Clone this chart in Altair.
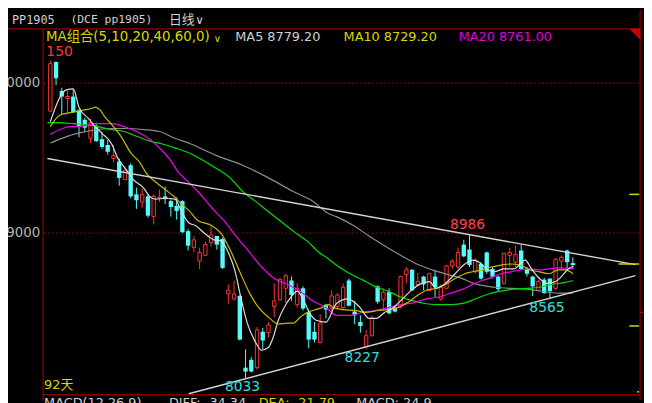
import altair as alt
import pandas as pd

# ---------------- data ----------------
candle_idx = list(range(1, 93))
opens = [9813, 10140, 9948, 9897, 9910, 9819, 9755, 9632, 9710, 9626,
         9587, 9497, 9477, 9355, 9452, 9258, 9207, 9245, 9110, 9232,
         9245, 9213, 9181, 9213, 9013, 8903, 8813, 8852, 8936, 8981,
         8961, 8594, 8561, 8581, 8103, 8155, 8103, 8342, 8336, 8510,
         8555, 8632, 8684, 8523, 8632, 8471, 8342, 8271, 8523, 8497,
         8510, 8503, 8684, 8477, 8407, 8245, 8316, 8645, 8555, 8606,
         8503, 8510, 8723, 8755, 8658, 8710, 8619, 8710, 8561, 8632,
         8781, 8774, 8923, 8890, 8742, 8794, 8871, 8761, 8710, 8665,
         8852, 8806, 8884, 8761, 8710, 8619, 8690, 8697, 8632, 8813,
         8884, 8800]
highs = [10150, 10145, 9968, 9948, 9961, 9826, 9768, 9761, 9736, 9677,
         9619, 9587, 9497, 9445, 9465, 9303, 9297, 9258, 9258, 9290,
         9310, 9226, 9239, 9219, 9026, 8980, 8903, 8942, 9045, 8981,
         8968, 8658, 8684, 8587, 8226, 8174, 8374, 8368, 8407, 8665,
         8703, 8729, 8710, 8665, 8645, 8490, 8407, 8458, 8529, 8619,
         8600, 8665, 8697, 8548, 8452, 8355, 8452, 8652, 8632, 8632,
         8516, 8716, 8774, 8761, 8736, 8716, 8736, 8755, 8658, 8787,
         8826, 8903, 8955, 8986, 8832, 8806, 8877, 8774, 8716, 8871,
         8903, 8916, 8923, 8774, 8716, 8690, 8703, 8697, 8832, 8852,
         8890, 8839]
lows = [9806, 9987, 9794, 9800, 9800, 9639, 9677, 9600, 9606, 9561,
        9523, 9471, 9316, 9355, 9232, 9161, 9168, 9103, 9058, 9207,
        9194, 9110, 9090, 9000, 8884, 8871, 8761, 8852, 8910, 8890,
        8761, 8529, 8548, 8284, 8033, 8071, 8090, 8226, 8303, 8439,
        8548, 8535, 8548, 8503, 8484, 8232, 8271, 8265, 8432, 8477,
        8497, 8497, 8510, 8394, 8336, 8227, 8310, 8529, 8484, 8458,
        8471, 8497, 8665, 8613, 8645, 8619, 8613, 8574, 8548, 8626,
        8761, 8761, 8839, 8774, 8729, 8690, 8729, 8697, 8613, 8658,
        8774, 8774, 8755, 8710, 8581, 8613, 8594, 8565, 8619, 8761,
        8768, 8761]
closes = [10129, 10032, 9910, 9910, 9806, 9710, 9703, 9736, 9613, 9574,
          9542, 9516, 9368, 9419, 9245, 9219, 9258, 9116, 9245, 9239,
          9226, 9174, 9148, 9006, 8916, 8955, 8871, 8923, 8987, 8923,
          8768, 8619, 8594, 8290, 8077, 8077, 8355, 8284, 8387, 8548,
          8690, 8716, 8587, 8632, 8497, 8290, 8290, 8400, 8490, 8581,
          8587, 8639, 8516, 8452, 8381, 8316, 8432, 8542, 8606, 8465,
          8477, 8710, 8755, 8619, 8677, 8658, 8729, 8639, 8639, 8781,
          8813, 8871, 8845, 8787, 8820, 8697, 8742, 8710, 8626, 8865,
          8871, 8858, 8761, 8729, 8645, 8677, 8600, 8613, 8826, 8839,
          8806, 8787]

ma5_x = [1, 3.8, 5, 6, 7.7, 8.8, 10, 11.7, 12.7, 14.3, 15.5, 17.2, 18.3, 19.3, 21,
         22.7, 23.8, 25.2, 26.2, 27.8, 29.5, 30.7, 32, 33.2, 34.2, 35.3, 36.5, 37.8,
         39, 39.8, 40.7, 41.7, 42.8, 44, 45, 46.2, 47.3, 49, 50.8, 52.8, 54.8, 56.5,
         57.8, 59.2, 60.7, 62.3, 63.7, 65.3, 67, 68.2, 69.8, 71.5, 73.2, 74.5, 75.7,
         77, 78.3, 80, 81.7, 83.7, 84.8, 86.2, 87.5, 89, 90, 91.2, 92]
ma5_v = [9742, 9955, 9961, 9839, 9761, 9710, 9665, 9594, 9503, 9419, 9355, 9303, 9245,
         9226, 9232, 9226, 9148, 9065, 9052, 9000, 8955, 8948, 8871, 8742, 8568, 8400,
         8290, 8219, 8239, 8303, 8419, 8503, 8568, 8613, 8561, 8465, 8419, 8407, 8529,
         8561, 8510, 8432, 8432, 8471, 8503, 8561, 8613, 8658, 8677, 8632, 8665, 8729,
         8794, 8820, 8806, 8761, 8742, 8761, 8761, 8820, 8761, 8697, 8665, 8677, 8710,
         8761, 8779]

ma10_x = [1, 2.7, 5, 6.7, 8.3, 8.8, 9.7, 10.5, 11.7, 13.3, 15, 16.7, 17.7, 19.3, 21,
          22.7, 23.8, 25.2, 26.7, 29, 30.7, 32.3, 34, 35.7, 37.3, 39, 40.7, 42.3, 43.3,
          44.5, 45.7, 46.7, 48.3, 49.5, 50.3, 52, 54.2, 55.8, 58.2, 59.8, 61.5, 63.2,
          64.8, 66.5, 68.2, 69.8, 71.5, 73.2, 74.5, 76.2, 77.8, 79.5, 81.2, 82.8, 84.5,
          86.2, 87.8, 89.5, 90.7, 92]
ma10_v = [9710, 9787, 9806, 9819, 9832, 9839, 9819, 9774, 9723, 9645, 9536, 9465, 9400,
          9342, 9290, 9239, 9194, 9148, 9084, 9052, 9000, 8890, 8742, 8600, 8503, 8439,
          8394, 8400, 8400, 8439, 8471, 8484, 8503, 8523, 8503, 8490, 8484, 8471, 8484,
          8490, 8503, 8535, 8581, 8619, 8632, 8658, 8697, 8729, 8742, 8755, 8774, 8787,
          8794, 8787, 8755, 8742, 8729, 8755, 8755, 8729]

ma20_x = [1, 2.7, 4.3, 6, 8.8, 11.7, 13.8, 16, 18.3, 20, 21.7, 23.3, 25.2, 26.7, 29,
          31.2, 33.3, 35.7, 37.8, 40, 42.3, 44.5, 46.7, 49, 50.8, 53.2, 55.3, 57.5,
          59.8, 62, 64.2, 66.5, 68.7, 70.8, 73.2, 74.5, 76.2, 77.8, 79.5, 81.2, 82.8,
          84.5, 86.2, 87.8, 89.5, 92]
ma20_v = [9658, 9690, 9710, 9710, 9729, 9729, 9710, 9677, 9626, 9568, 9497, 9406, 9335,
          9277, 9174, 9084, 8981, 8871, 8774, 8697, 8658, 8613, 8548, 8503, 8452, 8452,
          8471, 8484, 8503, 8523, 8535, 8561, 8574, 8600, 8632, 8658, 8684, 8703, 8729,
          8742, 8755, 8761, 8755, 8761, 8768, 8761]

ma40_x = [0.5, 2.7, 5, 7.2, 9.3, 11.7, 13.8, 16, 18.3, 20.5, 22.7, 25.5, 29, 32.3, 34.5,
          36.7, 39, 41.2, 43.3, 45.7, 47.8, 49.5, 50.8, 53.2, 55.3, 57.5, 59.8, 62,
          64.2, 66.5, 68.7, 70.8, 73.2, 75, 77.3, 79.5, 81.7, 84, 86.2, 88.3, 90.7, 92]
ma40_v = [9736, 9736, 9729, 9723, 9710, 9690, 9677, 9645, 9613, 9594, 9568, 9529, 9452,
          9368, 9277, 9213, 9142, 9077, 9013, 8948, 8871, 8826, 8787, 8729, 8690, 8645,
          8613, 8574, 8548, 8529, 8523, 8523, 8535, 8561, 8594, 8613, 8626, 8632, 8639,
          8658, 8671, 8684]

ma60_x = [1, 2.7, 5, 7.2, 9.3, 11.7, 14.3, 17.2, 20, 22.7, 25.5, 30, 34.5, 39, 43.3,
          46.7, 49.5, 50.8, 53.7, 56.5, 59.2, 62, 64.8, 67.5, 70.3, 73.2, 74.5, 78.3,
          84, 89.5, 92]
ma60_v = [9600, 9626, 9658, 9677, 9690, 9697, 9697, 9690, 9677, 9632, 9594, 9516, 9452,
          9368, 9277, 9213, 9129, 9110, 9052, 8981, 8916, 8852, 8794, 8755, 8723, 8690,
          8668, 8639, 8626, 8600, 8600]

trend_upper_x = [0.5, 102.9]
trend_upper_v = [9497, 8790]
trend_lower_x = [25.1, 102.9]
trend_lower_v = [7929, 8717]

grid_levels = [10000, 9000]
right_marks = [9258, 8794, 8381, 7942]

# ---------------- layout ----------------
SRC_W, SRC_H = 652, 403
CW, CH = 644, 395
SX, SY = CW / SRC_W, CH / SRC_H


def ix(rx):
    return (rx - 38.9) / 5.98 + 1


def pr(ry):
    return 10000 - (ry - 75) / 0.155


xs = alt.Scale(domain=[ix(0), ix(SRC_W)], nice=False, zero=False)
ys = alt.Scale(domain=[pr(SRC_H), pr(0)], nice=False, zero=False)


def X(f):
    return alt.X(f, type="quantitative", scale=xs, axis=None)


def Y(f):
    return alt.Y(f, type="quantitative", scale=ys, axis=None)


def vx(rx):
    return alt.value(rx * SX)


def vy(ry):
    return alt.value(ry * SY)


RED = "#ff3434"
CYAN = "#54fcfc"
FRAME = "#b40000"
SANS = "DejaVu Sans, Noto Sans CJK SC"
MONO = "DejaVu Sans Mono, Noto Sans CJK SC"

one = pd.DataFrame({"k": [0]})


def hrule(rx1, rx2, ry, color=FRAME, w=1):
    return alt.Chart(one).mark_rule(color=color, strokeWidth=w).encode(
        x=vx(rx1), x2=vx(rx2), y=vy(ry))


def vrule(rx, ry1, ry2, color=FRAME, w=1):
    return alt.Chart(one).mark_rule(color=color, strokeWidth=w).encode(
        x=vx(rx), y=vy(ry1), y2=vy(ry2))


def label(s, rx, ry, color, size=13, font=SANS, align="left", baseline="middle"):
    return alt.Chart(pd.DataFrame({"t": [s]})).mark_text(
        align=align, baseline=baseline, font=font, fontSize=size, color=color
    ).encode(x=vx(rx), y=vy(ry), text="t:N")


layers = []

# frame
layers += [
    hrule(0, 648, 19),
    vrule(36, 19, SRC_H),
    vrule(648, 0, SRC_H),
    hrule(36, 648, 397),
    hrule(648, 652, 312),
]

# dotted price levels
lev = pd.DataFrame({"p": grid_levels})
layers.append(
    alt.Chart(lev).mark_rule(color="#a00000", strokeWidth=1, strokeDash=[2, 2]).encode(
        y=Y("p"), x=vx(37), x2=vx(647))
)

# candles
df = pd.DataFrame({"i": candle_idx, "o": opens, "h": highs, "l": lows, "c": closes})
df["dir"] = ["up" if c >= o else "down" for o, c in zip(opens, closes)]
up = df[df.dir == "up"]
dn = df[df.dir == "down"]
layers += [
    alt.Chart(up).mark_rule(color=RED, strokeWidth=1).encode(x=X("i"), y=Y("l"), y2="h"),
    alt.Chart(dn).mark_rule(color=CYAN, strokeWidth=1).encode(x=X("i"), y=Y("l"), y2="h"),
    alt.Chart(up).mark_bar(size=3.4, fill="black", stroke=RED, strokeWidth=1,
                           orient="vertical").encode(x=X("i"), y=Y("o"), y2="c"),
    alt.Chart(dn).mark_bar(size=4.4, color=CYAN, orient="vertical").encode(
        x=X("i"), y=Y("o"), y2="c"),
]

# moving averages
for xv, vv, col in [
    (ma60_x, ma60_v, "#8c8c8c"),
    (ma40_x, ma40_v, "#00dc00"),
    (ma20_x, ma20_v, "#f000f0"),
    (ma10_x, ma10_v, "#c8bc00"),
    (ma5_x, ma5_v, "#dcdcdc"),
]:
    layers.append(
        alt.Chart(pd.DataFrame({"i": xv, "v": vv})).mark_line(
            color=col, strokeWidth=1.2, interpolate="monotone"
        ).encode(x=X("i"), y=Y("v"))
    )

# trend lines
for xv, vv in [(trend_upper_x, trend_upper_v), (trend_lower_x, trend_lower_v)]:
    layers.append(
        alt.Chart(pd.DataFrame({"i": xv, "v": vv})).mark_line(
            color="#d4d4d4", strokeWidth=1.4
        ).encode(x=X("i"), y=Y("v"))
    )

# right-edge yellow marks
rm = pd.DataFrame({"p": right_marks, "x0": [637, 626, 637, 645]})
for p, x0 in zip(right_marks, [637, 626, 637, 645]):
    layers.append(
        alt.Chart(pd.DataFrame({"p": [p]})).mark_rule(color="#d8d800", strokeWidth=1.5).encode(
            y=Y("p"), x=vx(x0), x2=vx(647))
    )

# red corner triangle
layers.append(
    alt.Chart(one).mark_point(shape="M -1 -1 L 1 -1 L 1 1 Z", filled=True, color="#d00000",
                              size=121, opacity=1).encode(x=vx(642.5), y=vy(24.5))
)

# extreme value labels (anchored to data)
ext = [("150", 1, 10150, RED, "left", -4, -9),
       ("8986", 74, 8986, "#ff4848", "center", -2, -10),
       ("8033", 35, 8033, "#30e0e0", "center", -3, 9),
       ("8227", 56, 8227, "#30e0e0", "center", -4, 9),
       ("8565", 88, 8565, "#30e0e0", "center", -3, 10)]
for s, i, p, col, al, dx, dy in ext:
    layers.append(
        alt.Chart(pd.DataFrame({"i": [i], "p": [p], "t": [s]})).mark_text(
            font=SANS, fontSize=14, color=col, align=al, baseline="middle", dx=dx, dy=dy
        ).encode(x=X("i"), y=Y("p"), text="t:N")
    )

# axis labels (left)
layers += [
    label("10000", 33, 75, "#b4b4b4", size=13.5, align="right"),
    label("9000", 33, 230, "#b4b4b4", size=13.5, align="right"),
]

# header texts
layers += [
    label("PP1905", 4, 10, "#d0d0d0", size=12, font=MONO),
    label("(DCE pp1905)", 64, 10, "#d0d0d0", size=11.5, font=MONO),
    label("日线", 165, 10, "#d0d0d0", size=13),
    label("∨", 192, 10, "#d0d0d0", size=12),
    label("MA组合(5,10,20,40,60,0)", 39, 27, "#d8d800", size=13.5),
    label("∨", 211, 30, "#d8d800", size=10),
    label("MA5 8779.20", 233, 27, "#d0d0d0", size=13),
    label("MA10 8729.20", 344, 27, "#d8d800", size=13),
    label("MA20 8761.00", 462, 27, "#e000e0", size=13),
    label("92天", 37, 387, "#d8d800", size=13),
    label("MACD(12,26,9)", 37, 399, "#d0d0d0", size=13, baseline="top"),
    label("DIFF: -34.34", 165, 399, "#d0d0d0", size=13, baseline="top"),
    label("DEA: -21.79", 257, 399, "#d8d800", size=13, baseline="top"),
    label("MACD: 24.9", 357, 399, "#d0d0d0", size=13, baseline="top"),
]

chart = alt.layer(*layers).properties(
    width=CW, height=CH, padding=0,
    autosize=alt.AutoSizeParams(type="none"),
    background="black",
).configure_view(strokeWidth=0)

chart.save("out.html", embed_options={"renderer": "svg", "actions": False})
